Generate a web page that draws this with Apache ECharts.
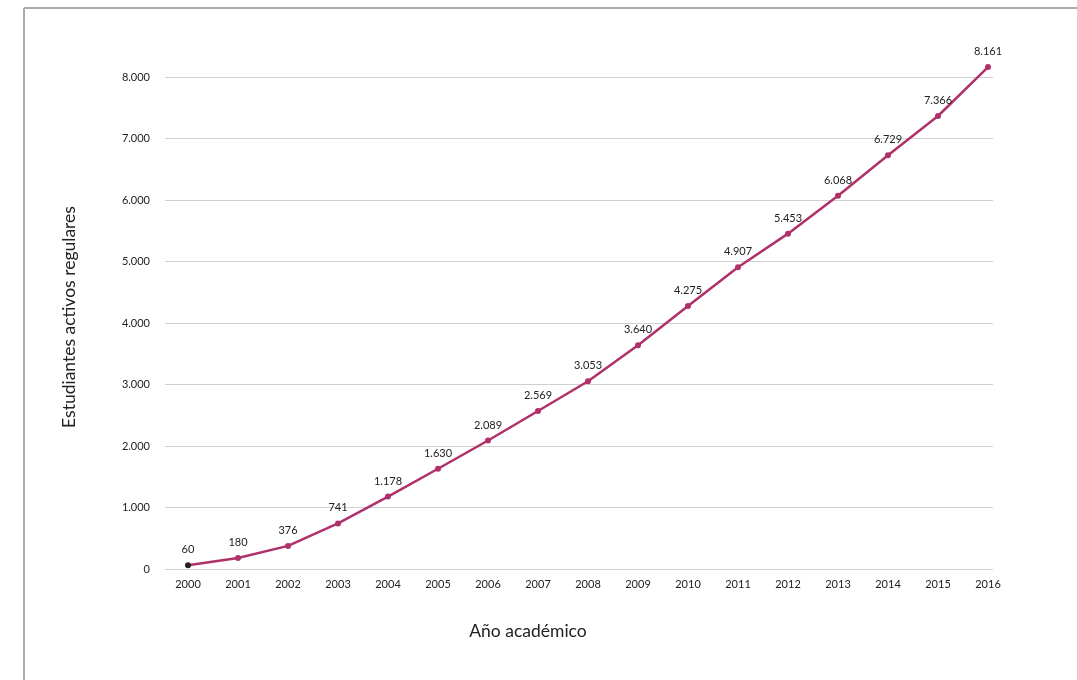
<!DOCTYPE html>
<html>
<head>
<meta charset="utf-8">
<script src="https://cdn.jsdelivr.net/npm/echarts@6/dist/echarts.min.js"></script>
<style>
html,body{margin:0;padding:0;background:#fff;}
#c{width:1077px;height:680px;}
</style>
</head>
<body>
<div id="c"></div>
<script>
const years = [2000,2001,2002,2003,2004,2005,2006,2007,2008,2009,2010,2011,2012,2013,2014,2015,2016];
const students = [60,180,376,741,1178,1630,2089,2569,3053,3640,4275,4907,5453,6068,6729,7366,8161];
const yTicks = [0,1000,2000,3000,4000,5000,6000,7000,8000];

const fmt = v => String(v).replace(/\B(?=(\d{3})+(?!\d))/g, '.');
const FONT = 'Lato, "Open Sans", sans-serif';

const chart = echarts.init(document.getElementById('c'), null, {renderer:'canvas'});
chart.setOption({
  animation:false,
  backgroundColor:'#fff',
  grid:{left:165, right:84, top:77, bottom:111},
  graphic:[
    {type:'line', shape:{x1:24,y1:8,x2:1077,y2:8}, style:{stroke:'#aaaaaa', lineWidth:2}},
    {type:'line', shape:{x1:24,y1:8,x2:24,y2:680}, style:{stroke:'#aaaaaa', lineWidth:2}}
  ],
  xAxis:{
    type:'value', min:1999.54, max:2016.1,
    axisLine:{show:false}, axisTick:{show:false}, splitLine:{show:false},
    axisLabel:{customValues:years, color:'#222', fontFamily:FONT, fontSize:11, margin:10, formatter:v=>String(Math.round(v))},
    name:'Año académico', nameLocation:'middle', nameGap:53,
    nameTextStyle:{color:'#222', fontFamily:FONT, fontSize:17.5, padding:[0,102,0,0]}
  },
  yAxis:{
    type:'value', min:0, max:8000, interval:1000,
    axisLine:{show:false}, axisTick:{show:false},
    splitLine:{lineStyle:{color:'#d0d0d0', width:1}},
    axisLabel:{color:'#222', fontFamily:FONT, fontSize:11, margin:15, formatter:v=>fmt(v)},
    name:'Estudiantes activos regulares', nameLocation:'middle', nameGap:87, nameRotate:90,
    nameTextStyle:{color:'#222', fontFamily:FONT, fontSize:17.5, padding:[0,0,0,12]}
  },
  series:[{
    type:'line',
    clip:false,
    data: years.map((y,i)=> i===0 ? {value:[y,students[i]], itemStyle:{color:'#222'}} : [y,students[i]]),
    lineStyle:{color:'#b0306a', width:2.5},
    itemStyle:{color:'#b0306a'},
    symbol:'circle', symbolSize:6,
    label:{show:true, position:'top', distance:7, color:'#222', fontFamily:FONT, fontSize:11,
      formatter:p=>fmt(p.value[1])}
  }]
});
</script>
</body>
</html>
